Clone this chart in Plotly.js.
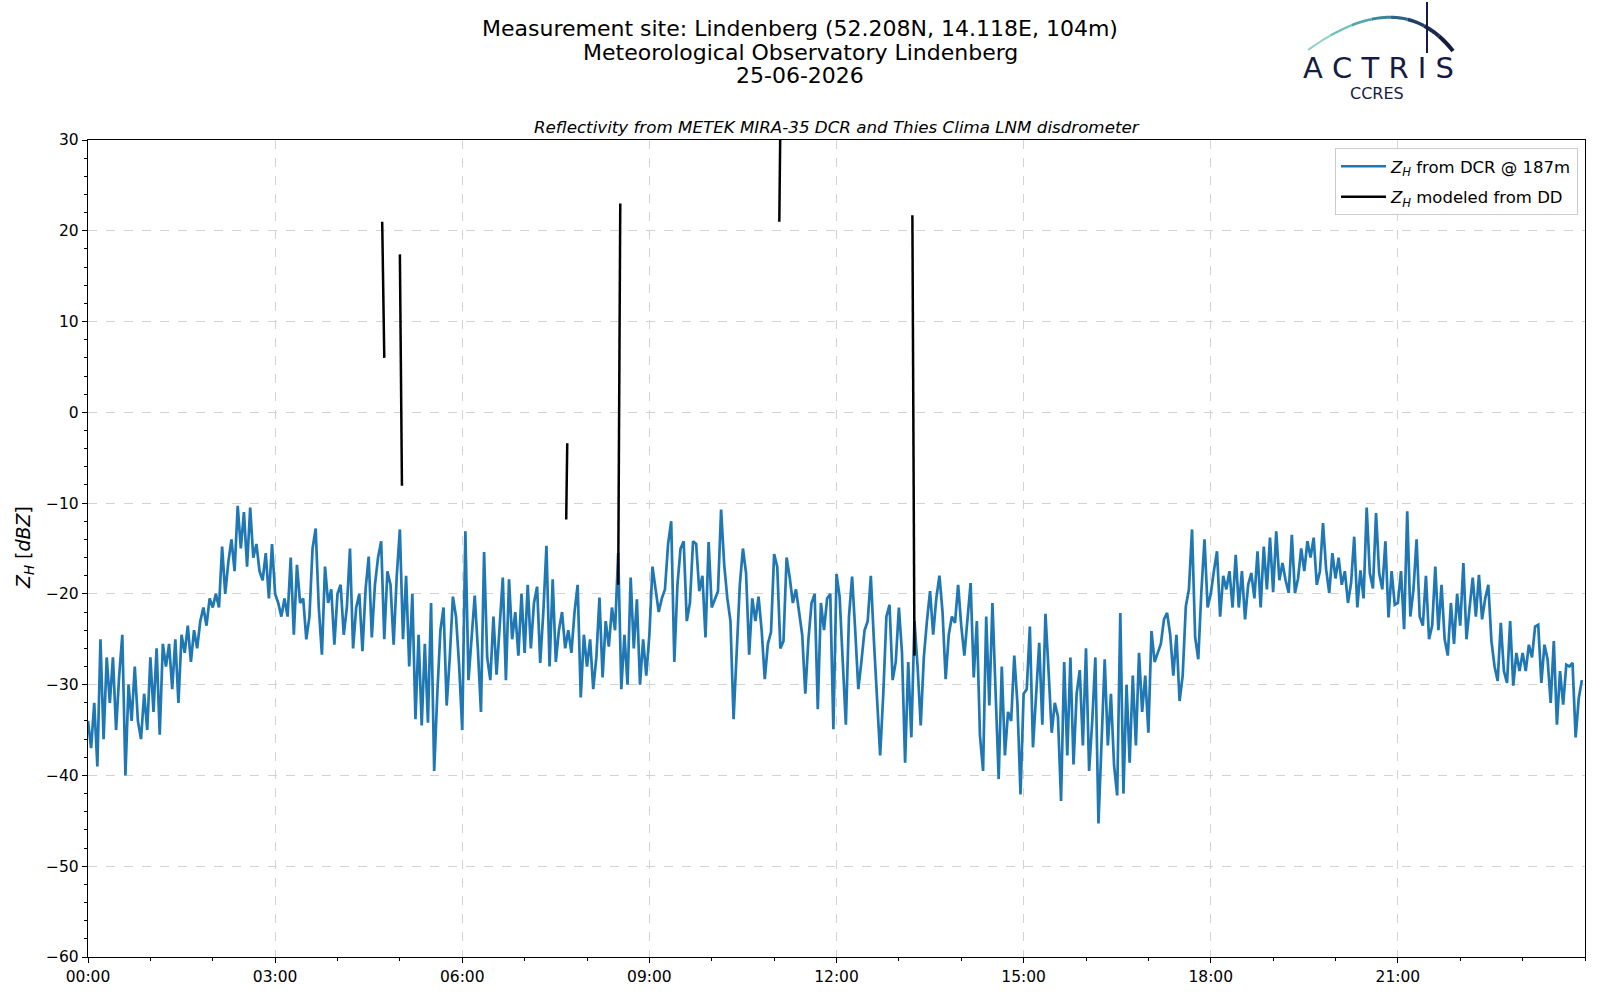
<!DOCTYPE html>
<html>
<head>
<meta charset="utf-8">
<script src="https://cdn.plot.ly/plotly-3.0.1.min.js"></script>
<style>html,body{margin:0;padding:0;background:#fff;}#chart{width:1600px;height:1000px;}</style>
</head>
<body>
<div id="chart"></div>
<script>
// ---- data (3-minute steps) ----
const DAY = "2026-06-25";
const stepMinutes = 3;
const dcr_00_03 = [-34,-37,-32,-39,-25,-36,-27,-32,-27,-35,-29,-24.5,-40,-30,-34,-28,-34,-36,-31,-35,-27,-33,-26,-35.5,-25.5,-28,-25.5,-30.5,-25,-32,-24.5,-26.5,-23.5,-27.5,-24,-26,-23,-21.5,-23.5,-20.5,-21.5,-20,-21.5,-14.8,-20,-16.5,-14,-17.5,-10.3,-15,-11,-17,-10.5,-16,-14.5,-17.5,-18.5,-15.5,-20.5,-14.5];
const dcr_03_06 = [-20,-21,-22.5,-20.5,-22.5,-16,-24.5,-16.8,-21,-20.5,-25,-22.5,-15,-12.8,-21.5,-26.7,-17,-21,-19.5,-25.6,-20,-19,-24.5,-21.5,-15,-26,-21.5,-20,-26.3,-19.5,-15.9,-24.8,-19,-16,-14.2,-25,-17.5,-19,-25.6,-18,-12.9,-25,-18,-28,-20,-33.8,-24.5,-34.5,-25.5,-34.2,-21,-39.5,-31,-24,-21.5,-32.3,-27,-20.3,-22.5,-27.9];
const dcr_06_09 = [-35,-13.1,-29.5,-25,-20.2,-26,-33,-15.4,-27,-29.5,-22.5,-28.9,-24,-18.2,-29.5,-18.4,-25,-22,-26.8,-20,-26.5,-19,-26,-21,-19.2,-27.6,-22,-14.7,-28,-18.4,-27.5,-24,-22,-26,-24,-26.5,-22,-19,-31.4,-24.5,-28,-25,-30.5,-27,-20.4,-29.2,-23,-25.8,-21.5,-24,-15.5,-30.5,-24.5,-30,-18.2,-26,-20.6,-30,-25,-29];
const dcr_09_12 = [-24.5,-17,-19.5,-22,-20.5,-19.5,-14.5,-12,-27.5,-19,-15,-14.2,-23,-21,-14.2,-14.5,-19.7,-18,-24.8,-14.3,-21.5,-20.5,-19.7,-10.7,-16.8,-20.5,-23,-33.8,-26,-19,-15,-17.7,-26.7,-20.5,-23,-20.3,-24,-29.4,-25.5,-24.2,-15.6,-17,-26,-25.2,-16,-18.2,-21,-19.5,-22,-24.5,-31,-25,-21,-20,-32.7,-21,-24,-20.5,-20,-34.9];
const dcr_12_15 = [-17.8,-20.3,-27.4,-34.4,-22.5,-18.1,-24,-30.5,-27.4,-24,-23,-18,-25.2,-32,-37.8,-31,-22.5,-21.2,-29.5,-27.5,-21.5,-26.5,-38.6,-27.5,-35.8,-23,-28,-34.5,-27,-23,-19.7,-24.5,-20.5,-18,-22,-29.4,-24.5,-22.5,-23.2,-19,-23.5,-26.8,-23,-18.8,-29.2,-23,-35.6,-39.5,-22.5,-32.3,-21,-31.5,-40.4,-28,-37.8,-33,-34,-26.8,-32,-42.1];
const dcr_15_18 = [-31,-30.5,-23.6,-36.9,-31,-25.4,-34.4,-22.2,-28.5,-35.3,-32,-33.5,-42.8,-27.5,-37.8,-27,-38.8,-31,-28.4,-36.7,-26,-39.5,-34,-27,-45.3,-37,-27.2,-36.7,-31,-38.9,-42.2,-22.1,-42,-30,-38.6,-29,-36.7,-26.5,-33,-29,-35.3,-24.1,-27.5,-26.5,-25.5,-22.8,-22.1,-24.5,-29,-24.5,-31.8,-29,-21.4,-19.5,-12.9,-24.8,-27.2,-19.7,-14,-21.5];
const dcr_18_21 = [-20,-17.5,-15.3,-22.5,-18,-19.5,-17.5,-21.5,-15.7,-21.5,-17.5,-22.8,-19,-17.7,-20.5,-15.3,-21.5,-14.8,-19.5,-13.8,-19.8,-13.1,-18.5,-16.6,-18.5,-19.9,-13.5,-19.9,-18.3,-15,-17.5,-14.2,-16,-13.8,-19,-17.5,-12.2,-17.3,-19.9,-15.5,-18.3,-16,-19,-17.5,-21,-18.8,-13.7,-21.5,-17.4,-20.5,-10.5,-17.7,-19.4,-11.1,-17.7,-19.5,-14.2,-22.6,-17.5,-21.2];
const dcr_21_24 = [-21,-17.5,-23.9,-10.9,-22.5,-19.5,-14,-22.5,-23.5,-18,-25,-23.5,-17,-24,-19,-25,-26.8,-21,-25.5,-20,-23.5,-16.6,-25,-21.5,-18.2,-22.5,-17.9,-22.8,-20.5,-19,-25.2,-28,-29.6,-23.2,-28.5,-29.8,-23,-30.1,-26.5,-28.5,-26.5,-28.5,-25.6,-27,-23.6,-23.4,-29.8,-25.6,-27.2,-32,-25.2,-34.4,-28.5,-32.2,-27.8,-28,-27.6,-35.8,-31.5,-29.5];

// disdrometer-modelled reflectivity (short segments, null = no data)
const dd_times = ["04:43","04:45","04:46","05:00","05:02","05:03","07:40","07:41","07:42","08:30","08:32","08:33","11:05","11:06","11:07","13:13","13:15"];
const dd_values = [21, 6, null, 17.4, -8.1, null, -11.8, -3.4, null, -19, 23, null, 21, 32, null, 21.7, -26.8];

const xTickLabels = ["00:00","03:00","06:00","09:00","12:00","15:00","18:00","21:00"];
const dcrName = "<i>Z<sub>H</sub></i> from DCR @ 187m";
const ddName = "<i>Z<sub>H</sub></i> modeled from DD";

// ---- build ----
const dcrValues = [].concat(dcr_00_03, dcr_03_06, dcr_06_09, dcr_09_12, dcr_12_15, dcr_15_18, dcr_18_21, dcr_21_24);
function pad(n){return (n<10?"0":"")+n;}
const dcrTimes = dcrValues.map((v,k)=>{const m=k*stepMinutes;return DAY+" "+pad(Math.floor(m/60))+":"+pad(m%60);});
const ddX = dd_times.map(t=>DAY+" "+t);
const tickVals = xTickLabels.map(t=>DAY+" "+t);

const FONT = "DejaVu Sans";
const L = 88, R = 1585, T = 140, B = 957;
function px(x){return (x-L)/(R-L);}
function py(y){return (B-y)/(B-T);}

// logo arc (quadratic curve, drawn in a few coloured pieces)
const P0=[1308,50], P1=[1400,-16], P2=[1453,51];
const arcColors=["#8fd3c8","#6cc0bb","#4fa6ad","#3a879b","#2b6383","#213f69","#1a2a53","#151b42"];
const arcWidths=[2.0,2.3,2.6,2.9,3.2,3.5,3.8,4.0];
const shapes=[];
const nSeg=arcColors.length;
for(let s=0;s<nSeg;s++){
  let d="";
  for(let j=0;j<=6;j++){
    const t=(s+j/6)/nSeg;
    const x=(1-t)*(1-t)*P0[0]+2*(1-t)*t*P1[0]+t*t*P2[0];
    const y=(1-t)*(1-t)*P0[1]+2*(1-t)*t*P1[1]+t*t*P2[1];
    d+=(j===0?"M ":" L ")+px(x).toFixed(5)+" "+py(y).toFixed(5);
  }
  shapes.push({type:"path",xref:"paper",yref:"paper",path:d,line:{color:arcColors[s],width:arcWidths[s]},layer:"above"});
}
shapes.push({type:"line",xref:"paper",yref:"paper",x0:px(1427),x1:px(1427),y0:py(2),y1:py(53),line:{color:"#151b42",width:2}});

const annotations=[
  {text:"Measurement site: Lindenberg (52.208N, 14.118E, 104m)",x:px(800),y:py(29)},
  {text:"Meteorological Observatory Lindenberg",x:px(800),y:py(52)},
  {text:"25-06-2026",x:px(800),y:py(75)}
].map(a=>Object.assign(a,{xref:"paper",yref:"paper",showarrow:false,xanchor:"center",yanchor:"middle",font:{family:FONT,size:22,color:"#000"}}));
annotations.push({text:"<i>Reflectivity from METEK MIRA-35 DCR and Thies Clima LNM disdrometer</i>",x:0.5,y:py(127),xref:"paper",yref:"paper",showarrow:false,xanchor:"center",yanchor:"middle",font:{family:FONT,size:16.7,color:"#000"}});
annotations.push({text:"<i>Z<sub>H</sub></i> [<i>dBZ</i>]",x:px(24),y:py(548),xref:"paper",yref:"paper",showarrow:false,xanchor:"center",yanchor:"middle",textangle:-90,font:{family:FONT,size:19,color:"#000"}});
annotations.push({text:"A C T R I S",x:px(1378),y:py(68),xref:"paper",yref:"paper",showarrow:false,xanchor:"center",yanchor:"middle",font:{family:FONT,size:29,color:"#151b42"}});
annotations.push({text:"CCRES",x:px(1377),y:py(93),xref:"paper",yref:"paper",showarrow:false,xanchor:"center",yanchor:"middle",font:{family:FONT,size:16,color:"#151b42"}});

const traces=[
  {x:dcrTimes,y:dcrValues,type:"scatter",mode:"lines",name:dcrName,legendgroup:"a",line:{color:"#1f77b4",width:2.7},hoverinfo:"skip"},
  {x:ddX,y:dd_values,type:"scatter",mode:"lines",name:ddName,legendgroup:"b",connectgaps:false,line:{color:"#000000",width:2.5},hoverinfo:"skip"}
];

const gridCol="#d3d3d3";
const layout={
  width:1600,height:1000,
  margin:{l:L,r:1600-R,t:T,b:1000-B,pad:0},
  paper_bgcolor:"#fff",plot_bgcolor:"#fff",
  font:{family:FONT,color:"#000"},
  showlegend:true,
  legend:{x:px(1578),xanchor:"right",y:py(148),yanchor:"top",bgcolor:"rgba(255,255,255,0.85)",bordercolor:"#cccccc",borderwidth:1,font:{family:FONT,size:16.5,color:"#000"},tracegroupgap:6,itemwidth:45},
  xaxis:{type:"date",range:[DAY+" 00:00","2026-06-26 00:00"],tickmode:"array",tickvals:tickVals,ticktext:xTickLabels,
    ticks:"outside",ticklen:5,tickwidth:1,tickcolor:"#000",tickfont:{family:FONT,size:15.5,color:"#000"},
    showline:true,linecolor:"#000",linewidth:1.2,mirror:true,zeroline:false,
    showgrid:true,gridcolor:gridCol,griddash:"dash",gridwidth:1,
    minor:{tickmode:"linear",tick0:DAY+" 00:00",dtick:3600000,ticks:"outside",ticklen:3,tickwidth:1,tickcolor:"#000",showgrid:false}},
  yaxis:{range:[-60,30],tickmode:"linear",tick0:-60,dtick:10,
    ticks:"outside",ticklen:5,tickwidth:1,tickcolor:"#000",tickfont:{family:FONT,size:15.5,color:"#000"},
    showline:true,linecolor:"#000",linewidth:1.2,mirror:true,zeroline:false,
    showgrid:true,gridcolor:gridCol,griddash:"dash",gridwidth:1,
    minor:{tickmode:"linear",tick0:-60,dtick:2,ticks:"outside",ticklen:3,tickwidth:1,tickcolor:"#000",showgrid:false}},
  shapes:shapes,
  annotations:annotations
};
Plotly.newPlot("chart",traces,layout,{staticPlot:true,displayModeBar:false});
</script>
</body>
</html>
